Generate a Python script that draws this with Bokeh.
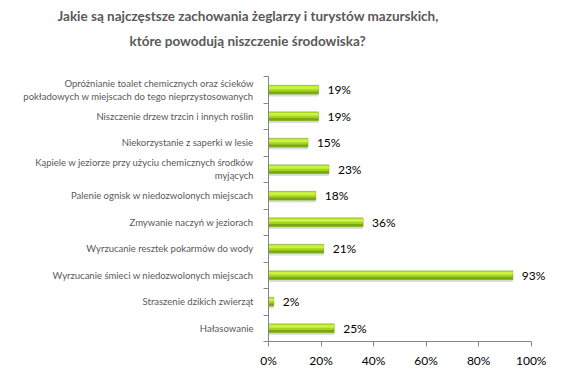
import numpy as np
from bokeh.plotting import figure
from bokeh.models import ColumnDataSource, FixedTicker, PrintfTickFormatter, Range1d, Title
from bokeh.transform import dodge
from bokeh.core.properties import value
from bokeh.embed import file_html
from bokeh.resources import INLINE

title_line1 = "Jakie są najczęstsze zachowania żeglarzy i turystów mazurskich,"
title_line2 = "które powodują niszczenie środowiska?"

categories = [
    "Opróżnianie toalet chemicznych oraz ścieków\npokładowych w miejscach do tego nieprzystosowanych",
    "Niszczenie drzew trzcin i innych roślin",
    "Niekorzystanie z saperki w lesie",
    "Kąpiele w jeziorze przy użyciu chemicznych środków\nmyjących",
    "Palenie ognisk w niedozwolonych miejscach",
    "Zmywanie naczyń w jeziorach",
    "Wyrzucanie resztek pokarmów do wody",
    "Wyrzucanie śmieci w niedozwolonych miejscach",
    "Straszenie dzikich zwierząt",
    "Hałasowanie",
]
values = [19, 19, 15, 23, 18, 36, 21, 93, 2, 25]
x_ticks = [0, 20, 40, 60, 80, 100]

n = len(categories)
ypos = list(range(n - 1, -1, -1))
boundaries = [i - 0.5 for i in range(n + 1)]

src = ColumnDataSource(dict(
    y=ypos,
    v=values,
    lbl=[f"{v}%" for v in values],
))

p = figure(width=558, height=370, output_backend="svg", toolbar_location=None,
           title=None, x_range=Range1d(0, 110), y_range=Range1d(-0.5, n - 0.5),
           min_border_left=268, min_border_right=1, min_border_bottom=25,
           min_border_top=76)
p.outline_line_color = None
p.xgrid.visible = False
p.ygrid.visible = False
p.background_fill_color = "white"
p.border_fill_color = "white"

FONT = "Lato"
GRAY = "#595959"

# titles: spacer (closest to the frame), then line 2, then line 1
spacer = Title(text=" ", text_font_size="1px", standoff=21)
t2 = Title(text=title_line2, align="left", offset=-139, text_font=FONT,
           text_font_size="13.5px", text_font_style="bold", text_color=GRAY, standoff=7)
t1 = Title(text=title_line1, align="left", offset=-211, text_font=FONT,
           text_font_size="13.5px", text_font_style="bold", text_color=GRAY, standoff=7)
p.add_layout(spacer, "above")
p.add_layout(t2, "above")
p.add_layout(t1, "above")

# bars (shadow, body, dark lower band, bright upper band)
p.hbar(y=dodge("y", -0.09, range=p.y_range), left=0, right="v", height=0.32,
       source=src, fill_color="#000000", fill_alpha=0.13, line_color=None)
p.hbar(y="y", left=0, right="v", height=0.33, source=src,
       fill_color="#a2d424", line_color="#7ba516", line_width=0.6)
p.hbar(y=dodge("y", -0.115, range=p.y_range), left=0, right="v", height=0.09,
       source=src, fill_color="#7aa916", line_color=None)
p.hbar(y=dodge("y", 0.075, range=p.y_range), left=0, right="v", height=0.11,
       source=src, fill_color="#cdf240", line_color=None)

p.text(x="v", y="y", text="lbl", source=src, x_offset=9, text_align="left",
       text_baseline="middle", text_font=value(FONT), text_font_size="12px",
       text_color="#000000")

# axes
xa = p.xaxis[0]
xa.ticker = FixedTicker(ticks=x_ticks)
xa.bounds = (0, 100)
xa.formatter = PrintfTickFormatter(format="%d%%")
xa.axis_line_color = "#868686"
xa.major_tick_line_color = "#868686"
xa.major_tick_out = 5
xa.major_tick_in = 0
xa.minor_tick_line_color = None
xa.major_label_text_font = FONT
xa.major_label_text_font_size = "12px"
xa.major_label_text_color = "#000000"
xa.major_label_standoff = 6

ya = p.yaxis[0]
ya.ticker = FixedTicker(ticks=ypos, minor_ticks=boundaries)
ya.major_label_overrides = {y: c for y, c in zip(ypos, categories)}
ya.axis_line_color = "#868686"
ya.major_tick_line_color = None
ya.major_tick_out = 0
ya.major_tick_in = 0
ya.minor_tick_line_color = "#868686"
ya.minor_tick_out = 5
ya.minor_tick_in = 0
ya.major_label_text_font = FONT
ya.major_label_text_font_size = "9.5px"
ya.major_label_text_color = GRAY
ya.major_label_standoff = 10

open("out.html", "w").write(file_html(p, INLINE))
